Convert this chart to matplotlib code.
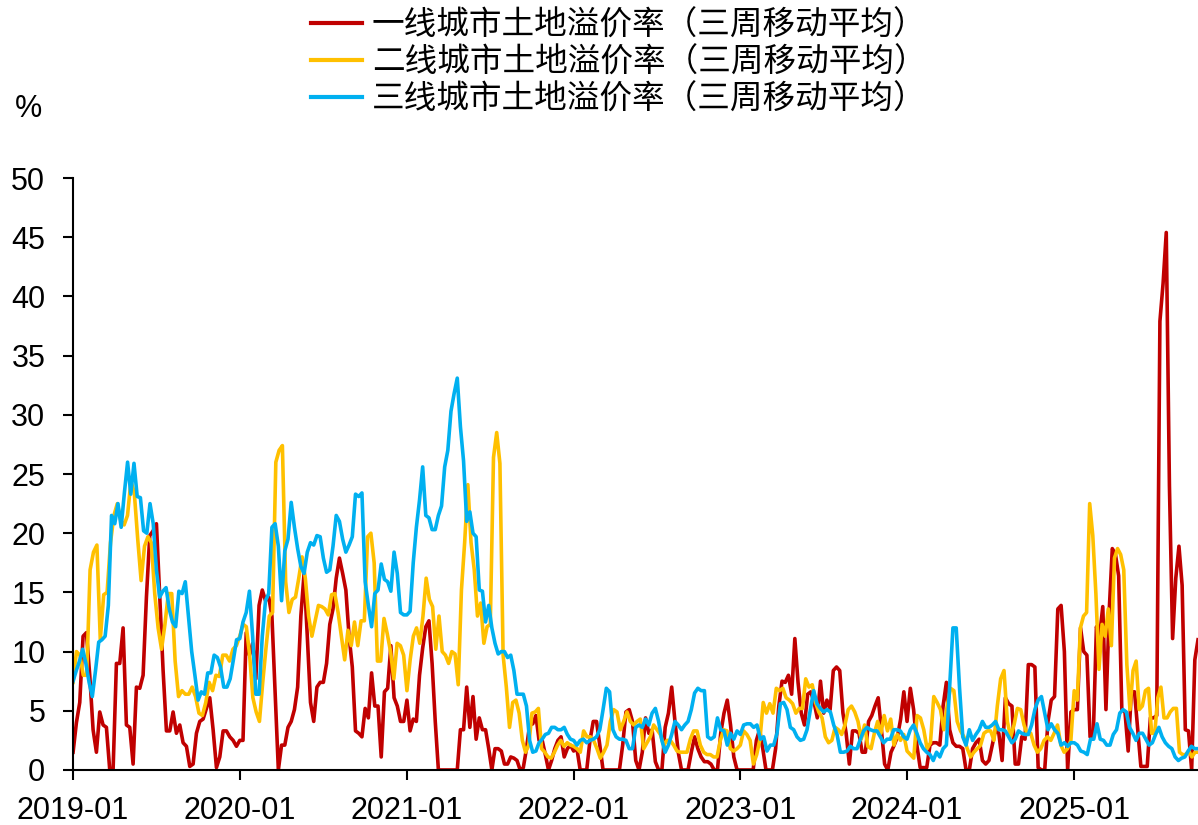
import numpy as np
import pandas as pd
import matplotlib
matplotlib.use("Agg")
import matplotlib.pyplot as plt
import matplotlib.dates as mdates

plt.rcParams['font.family'] = ['Liberation Sans', 'Noto Sans CJK SC', 'DejaVu Sans']

# weekly readings (3-week moving average), one list per year
red_2019 = [1.5, 4, 5.7, 11.3, 11.6, 8, 3.4, 1.5, 4.9, 3.8, 3.6, 0, 0, 9, 9, 12, 3.8, 3.6, 0.5, 7, 6.9,
            8, 14.6, 19.8, 20.2, 20.8, 14.6, 8.4, 3.3, 3.3, 4.9, 3.1, 3.8, 2.3, 2, 0.3, 0.5, 3.1, 4.1,
            4.3, 5.2, 6.1, 3.4, 0.2, 1.1, 3.3, 3.3, 2.8, 2.5, 2]
red_2020 = [2.5, 2.5, 11.6, 9.7, 10.7, 7.7, 13.9, 15.2, 14.3, 14.6, 13, 6.4, 0, 2.1, 2.1, 3.6, 4.1, 5.1,
            7, 13, 16.6, 11.3, 5.7, 4.1, 7, 7.4, 7.4, 9, 12.3, 13.6, 16.2, 17.9, 16.6, 15.2, 11.3, 8.7,
            3.3, 3.1, 2.8, 5.2, 4.4, 8.2, 5.4, 5.4, 1.1, 6.6, 6.9, 10.5, 6.1, 5.4, 4.1, 4.1]
red_2021 = [5.9, 3.3, 4.3, 4.1, 8, 10.3, 12.1, 12.6, 9, 4.1, 0, 0, 0, 0, 0, 0, 0, 3.4, 3.4, 7, 3.6, 6.2,
            2.6, 4.4, 3.4, 3.4, 1.8, 0, 1.8, 1.8, 1.6, 0.5, 0.5, 1.1, 1, 0.8, 0, 0.2, 1.8, 3.8, 3.9, 4.6,
            2.5, 2.5, 1.3, 0, 0.8, 1.8, 2.5, 2.8, 1.1, 1.8, 2.1]
red_2022 = [1.6, 1.8, 0, 0, 0, 2.5, 4.1, 4.1, 2.1, 0, 0, 0, 0, 0, 0, 2.1, 4.9, 5.1, 4.1, 0.8, 0, 1.5,
            4.4, 3.1, 3.4, 0.7, 0, 0, 3.6, 4.8, 7, 4.1, 1.5, 0, 0, 0, 1.5, 2.8, 1.8, 1.1, 0.7, 0.7, 0.5,
            0, 0, 3.1, 4.8, 5.9, 3.8, 1.1, 0]
red_2023 = [0, 0, 0, 0, 0, 2.5, 3.4, 1.8, 0, 0, 0, 1.8, 5.4, 7.5, 7.4, 8, 6.4, 11.1, 7.4, 4.8, 3.8, 6.4,
            6.6, 5.7, 4.4, 7.5, 4.8, 5.9, 5.1, 8.4, 8.7, 8.4, 4.8, 3.1, 0.5, 3.3, 3.3, 3.1, 1.5, 1.5,
            4.1, 4.6, 5.4, 6.1, 3.4, 0.5, 0, 1.5, 2.1, 2.8, 4.3, 6.6]
red_2024 = [4.1, 6.9, 5.1, 2.1, 0.2, 0.2, 0.2, 2.1, 2.3, 2.3, 2.1, 5.4, 7.4, 3.4, 2.3, 2, 2, 1.8, 0, 0,
            1.8, 2.3, 2.6, 0.8, 0.5, 0.8, 2.1, 3.4, 3.1, 0.8, 6.1, 5.6, 5.4, 0.5, 0.5, 2.8, 2.6, 8.9,
            8.9, 8.7, 0.2, 0, 0, 4.1, 5.9, 6.2, 13.6, 13.9, 10, 0, 4.9]
red_2025 = [5.1, 5.1, 12, 10, 9.7, 2.8, 2.8, 12.1, 11.3, 13.8, 5.1, 13.3, 18.7, 18.2, 16.4, 5.1, 4.9,
            1.6, 6.6, 6.6, 3.4, 0.3, 0.3, 0.3, 4.4, 4.4, 4.6, 37.9, 41.1, 45.4, 24, 11.1, 16.2, 18.9,
            15.6, 3.4, 3.3, 0, 9.3, 11]

yel_2019 = [7.4, 10, 9.7, 8, 8, 16.9, 18.4, 19, 11, 14.8, 15, 19.2, 21.5, 22.5, 21.1, 20.7, 21.5, 24.4,
            23.4, 19.5, 16, 18.9, 19.7, 19.2, 14.9, 12, 10.2, 12.3, 14.9, 14.9, 9.2, 6.2, 6.7, 6.4, 6.4,
            7, 6.2, 4.8, 4.6, 5.7, 7.4, 6.7, 8, 7.9, 9.7, 9.7, 9.2, 10.2, 10.5]
yel_2020 = [11.3, 12.3, 12.1, 9.7, 6.1, 4.9, 4.1, 7.4, 10.3, 13, 13.3, 26, 27, 27.4, 15.9, 13.3, 14.4,
            14.6, 16.2, 18, 16.2, 13, 11.3, 12.6, 13.9, 13.8, 13.6, 13.1, 14.8, 14.9, 13.3, 11.3, 9.3,
            11.8, 10.5, 12.5, 10.5, 12.6, 12.6, 19.7, 20, 17.5, 9.2, 9.2, 12.8, 11.5, 10, 7.7, 10.7,
            10.5, 9.7]
yel_2021 = [6.7, 9.3, 11.3, 12, 10.7, 13, 16.2, 14.4, 13.8, 10.2, 13, 10, 9.7, 9, 10, 9.8, 7.2, 15.2,
            19.2, 24.1, 19.2, 16.9, 13, 14.1, 10.7, 12.1, 12.3, 26.4, 28.5, 25.9, 9.7, 7, 3.6, 5.7, 5.9,
            4.8, 2.5, 1.5, 2.1, 4.8, 4.9, 5.2, 1.8, 1.5, 1.1, 1, 1.5, 2.1, 2.5, 2, 2.3, 2.1]
yel_2022 = [2, 1.8, 1.5, 3.3, 2.8, 2.8, 2.5, 1.8, 1, 1.5, 2.1, 4.1, 5.1, 4.9, 3.4, 4.1, 4.9, 4.1, 3.8,
            4.1, 4.3, 1.8, 2.3, 2.8, 3.8, 3.4, 3, 2.1, 2.5, 2.5, 2.1, 1.6, 1.5, 1.5, 1.5, 2.6, 3.3, 3.3,
            2.1, 1.5, 1.3, 1.3, 1.1, 1.1, 2.5, 3.4, 3.3, 1.8, 1.6, 1.8]
yel_2023 = [2.1, 3.3, 3, 2.5, 0.5, 1.3, 2.6, 5.7, 4.8, 5.6, 4.8, 6.9, 6.7, 6.9, 6.1, 5.9, 5.6, 4.8, 5.2,
            5.2, 7.7, 7, 7.2, 5.7, 4.9, 4.4, 2.8, 2.3, 2.5, 3.6, 3.4, 3, 3.8, 5.1, 5.4, 4.9, 4.1, 2.6,
            3.8, 2, 1.8, 3.1, 4.1, 3.1, 4.6, 3.3, 4.3, 2.1, 3, 2.5, 3]
yel_2024 = [1.6, 1.3, 1, 4.6, 4.4, 3.4, 1.8, 2.3, 6.2, 5.7, 5.1, 3.4, 5.4, 6.9, 6.7, 4.1, 3.3, 2.8, 1.8,
            1.1, 1.5, 1.8, 2.1, 3.1, 3.3, 3.3, 2.5, 5.4, 7.7, 8.4, 4.1, 2.8, 3.8, 5.2, 5.1, 3.8, 3, 3.1,
            2.1, 1.5, 1.8, 2.5, 2.8, 2.5, 3.1, 3.8, 2.1, 1.5, 1.8, 2.5]
yel_2025 = [6.7, 5.9, 12, 13, 13.3, 22.5, 19.8, 14.9, 8.5, 12.3, 11.3, 13.6, 10.5, 17.9, 18.7, 18.2,
            16.9, 8.9, 5.1, 8.4, 9.2, 5.1, 5.4, 6.7, 6.9, 3.1, 3.1, 6.1, 7, 4.4, 4.4, 4.9, 5.2, 5.2, 1.5,
            1.3, 1.3, 1.6, 1.1, 1.5, 1.5]

blu_2019 = [7.5, 8.4, 9.2, 10.2, 9, 7.4, 6.2, 8.4, 10.8, 11, 11.3, 13.9, 21.5, 20.8, 22.5, 20.5, 23.4,
            26, 23.3, 25.9, 23.1, 23, 20.2, 20, 22.5, 20.8, 16.9, 14.6, 15.1, 15.4, 13.6, 12.5, 12.1,
            15.1, 14.9, 15.9, 13, 10, 8, 5.9, 6.6, 6.4, 8.2, 8.2, 9.7, 9.5, 8.7, 7, 7, 7.7, 9.3, 11]
blu_2020 = [11.1, 12.5, 13.3, 15.1, 11.3, 6.4, 6.4, 11.3, 14.3, 14.9, 20.5, 20.8, 18.9, 14.3, 18.5,
            19.5, 22.6, 20.5, 18.7, 17.2, 16.6, 18.4, 19.2, 19, 19.8, 19.7, 17.9, 16.7, 16.9, 18.9, 21.5,
            21, 19.5, 18.4, 19, 19.7, 23.3, 23.1, 23.4, 15.9, 13.9, 12.1, 14.9, 15.2, 17.4, 16.1, 15.9,
            15.1, 18.4, 16.6, 13.3, 13.1]
blu_2021 = [13.1, 13.4, 17.5, 20.5, 22.8, 25.6, 21.5, 21.3, 20.3, 20.3, 21.5, 22.3, 25.6, 27, 30.3,
            31.8, 33.1, 29, 26.1, 21, 21.8, 20, 19.7, 15.2, 15.1, 12.5, 13.9, 12, 10.7, 9.8, 10, 10,
            9.5, 9.7, 8.4, 6.4, 6.4, 6.4, 5.4, 2.5, 1.5, 1.6, 2.3, 2.6, 3, 3.1, 3.6, 3.6, 3.4, 3.4, 3.6,
            3, 2.6]
blu_2022 = [2.5, 2.1, 2.5, 2.6, 2.3, 2.5, 2.6, 2.8, 3.4, 5.1, 6.9, 6.6, 3.4, 2.8, 2.6, 2.6, 2.5, 1.8,
            1.8, 3.6, 3.8, 3.6, 4.3, 3.8, 4.8, 5.2, 4.1, 2.5, 1.5, 2.1, 3, 4.1, 3.8, 3.4, 3.8, 4.1, 5.1,
            6.5, 6.9, 6.7, 6.7, 2.8, 2.6, 2.8, 4.4, 3.4, 3.3, 2.1, 3.1, 2.6, 3.3]
blu_2023 = [3, 3.8, 3.9, 3.9, 3.6, 3.8, 2.6, 2.8, 1.6, 2.1, 2.1, 3.1, 5.6, 5.7, 5.1, 3.6, 3.4, 2.8, 2.5,
            2.6, 3.4, 5.1, 6.7, 5.6, 5.2, 4.9, 5.1, 4.9, 3.8, 3, 1.5, 1.5, 1.6, 2, 1.8, 1.8, 2.6, 3.3,
            3.6, 3.4, 3.3, 3.3, 2.8, 2.3, 2.6, 2.6, 3.4, 3.4, 3.3, 2.8]
blu_2024 = [2.6, 3.4, 3.8, 3.1, 2.3, 1.8, 1.5, 1.3, 0.8, 1.5, 1.1, 1.8, 2.1, 7, 12, 12, 7, 2.8, 2.1, 3.4,
            2.5, 3, 3.4, 4.1, 3.6, 3.6, 3.8, 4.1, 3.4, 3.4, 3.3, 2.8, 2.3, 2.6, 3.3, 3.1, 3, 3, 3.8, 5.1,
            5.9, 6.2, 4.8, 3.4, 3.9, 3.4, 3.1, 2.1, 2.3, 2, 2.3]
blu_2025 = [2.3, 2.1, 1.6, 1.5, 1.3, 2.6, 2.6, 3.9, 2.6, 2.5, 2.1, 2.1, 3, 3.4, 4.8, 5.1, 4.9, 3.6, 3.1,
            2.5, 3.1, 3.1, 2.6, 2.1, 2.3, 3, 3.6, 2.8, 2.3, 2, 1.8, 1.1, 0.8, 1, 1.1, 1.6, 2, 1.8, 1.8]

years = [2019, 2020, 2021, 2022, 2023, 2024, 2025]
last_day = '2025-10-06'

labels = ['一线城市土地溢价率（三周移动平均）',
          '二线城市土地溢价率（三周移动平均）',
          '三线城市土地溢价率（三周移动平均）']
colors = ['#C00000', '#FFC000', '#00B0F0']


def spread(year, vals):
    '''put one year of weekly readings evenly across that year'''
    start = pd.Timestamp(f'{year}-01-01')
    end = pd.Timestamp(last_day) if year == years[-1] else pd.Timestamp(f'{year + 1}-01-01')
    step = (end - start) / len(vals)
    return [start + step * i for i in range(len(vals))]


def build(parts):
    dates, vals = [], []
    for y, v in zip(years, parts):
        dates += spread(y, v)
        vals += v
    return pd.Series(vals, index=pd.DatetimeIndex(dates))


red = build([red_2019, red_2020, red_2021, red_2022, red_2023, red_2024, red_2025])
yel = build([yel_2019, yel_2020, yel_2021, yel_2022, yel_2023, yel_2024, yel_2025])
blu = build([blu_2019, blu_2020, blu_2021, blu_2022, blu_2023, blu_2024, blu_2025])

fig = plt.figure(figsize=(11.98, 8.25), dpi=100)
ax = fig.add_axes([0.061, 0.0667, 0.939, 0.7175])

for s, c, lab in zip([red, yel, blu], colors, labels):
    ax.plot(s.index, s.values, color=c, lw=2.6, label=lab)

ax.set_ylim(0, 50)
ax.set_yticks(np.arange(0, 51, 5))
ax.set_xlim(pd.Timestamp('2019-01-01'), red.index[-1])
ax.xaxis.set_major_locator(mdates.YearLocator())
ax.xaxis.set_major_formatter(mdates.DateFormatter('%Y-%m'))

for sp in ['top', 'right']:
    ax.spines[sp].set_visible(False)
for sp in ['left', 'bottom']:
    ax.spines[sp].set_linewidth(1.5)
ax.tick_params(axis='both', labelsize=22, width=1.5, length=7, direction='out')
ax.tick_params(axis='y', pad=13)
ax.tick_params(axis='x', pad=12)

fig.text(0.012, 0.858, '%', fontsize=22)

leg = fig.legend(loc='upper center', bbox_to_anchor=(0.5165, 1.024), frameon=False,
                 prop={'family': ['Noto Sans CJK SC', 'DejaVu Sans'], 'size': 23.5},
                 handlelength=1.55, handletextpad=0.3, labelspacing=0.15)
for h in leg.legend_handles:
    h.set_linewidth(3)

fig.savefig('out.png', dpi=100)
